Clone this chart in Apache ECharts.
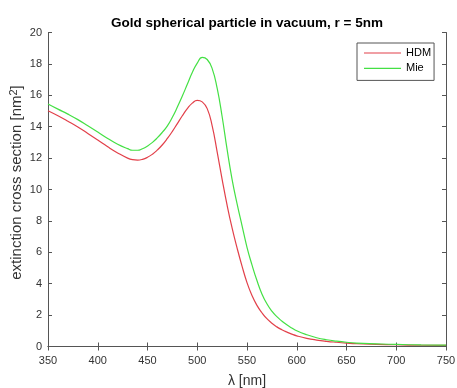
<!DOCTYPE html>
<html>
<head>
<meta charset="utf-8">
<script src="https://cdn.jsdelivr.net/npm/echarts@6/dist/echarts.min.js"></script>
<style>
html,body{margin:0;padding:0;background:#fff;}
#chart{width:457px;height:388px;}
</style>
</head>
<body>
<div id="chart"></div>
<script>
var titleText = 'Gold spherical particle in vacuum, r = 5nm';
var xAxisName = 'λ [nm]';
var yAxisName = 'extinction cross section [nm{sup|2}]';
var seriesNames = ['HDM', 'Mie'];

var wavelengths = [350,360,370,380,390,400,410,420,430,435,440,445,450,455,460,465,470,475,480,485,490,495,500,505,510,515,520,525,530,535,540,545,550,555,560,565,570,575,580,585,590,595,600,610,620,630,640,650,660,680,700,725,750];
var hdmValues = [15.02,14.7,14.35,13.98,13.57,13.15,12.72,12.33,12.0,11.9,11.87,11.92,12.05,12.25,12.52,12.85,13.25,13.7,14.2,14.7,15.15,15.5,15.68,15.58,15.15,14.05,12.4,10.65,9.0,7.55,6.28,5.12,4.07,3.25,2.62,2.15,1.77,1.48,1.25,1.07,0.92,0.79,0.68,0.52,0.41,0.33,0.27,0.22,0.18,0.14,0.11,0.08,0.07];
var mieValues = [15.45,15.12,14.8,14.45,14.06,13.66,13.25,12.88,12.6,12.5,12.5,12.6,12.77,13.0,13.3,13.65,14.05,14.6,15.25,15.95,16.7,17.45,18.05,18.42,18.28,17.7,16.45,14.65,12.55,10.65,9.1,7.7,6.32,5.2,4.2,3.35,2.72,2.25,1.9,1.62,1.38,1.18,1.0,0.75,0.56,0.43,0.34,0.27,0.22,0.17,0.13,0.1,0.09];

var xTicks = {min: 350, max: 750, interval: 50};
var yTicks = {min: 0, max: 20, interval: 2};

function pairs(xs, ys){ return xs.map(function(x,i){ return [x, ys[i]]; }); }

var axisColor = '#555';
var labelColor = '#333';
var fontFam = '"Liberation Sans", Arial, sans-serif';
var redColor = '#e2404a';
var greenColor = '#44e044';

var chart = echarts.init(document.getElementById('chart'), null, {renderer:'canvas'});
chart.setOption({
  animation: false,
  backgroundColor: '#fff',
  title: {
    text: titleText,
    left: 242, top: 11, textAlign: 'center',
    textStyle: {fontFamily: fontFam, fontSize: 13.5, fontWeight: 'bold', color: '#000'}
  },
  grid: {left: 48, right: 11, top: 32.5, bottom: 41.5, containLabel: false, outerBoundsMode: 'none'},
  legend: {
    orient: 'vertical', left: 357, top: 43,
    data: seriesNames,
    icon: 'rect', itemWidth: 37, itemHeight: 1.2, itemGap: 1.4,
    padding: [3, 3, 5, 7],
    borderColor: axisColor, borderWidth: 1, backgroundColor: '#fff',
    textStyle: {fontFamily: fontFam, fontSize: 11, color: '#000', lineHeight: 14}
  },
  xAxis: [{
    type: 'value', position: 'bottom', min: xTicks.min, max: xTicks.max, interval: xTicks.interval,
    name: xAxisName, nameLocation: 'middle', nameGap: 28, nameMoveOverlap: false,
    nameTextStyle: {fontFamily: fontFam, fontSize: 14, color: labelColor},
    axisLine: {show: true, lineStyle: {color: axisColor, width: 1}},
    axisTick: {show: true, inside: true, length: 4, lineStyle: {color: axisColor}},
    axisLabel: {fontFamily: fontFam, fontSize: 11, color: labelColor, margin: 9},
    splitLine: {show: false}
  },{
    type: 'value', position: 'top', min: xTicks.min, max: xTicks.max, interval: xTicks.interval,
    axisLine: {show: true, lineStyle: {color: axisColor, width: 1}},
    axisTick: {show: true, inside: true, length: 4, lineStyle: {color: axisColor}},
    axisLabel: {show: false}, splitLine: {show: false}
  }],
  yAxis: [{
    type: 'value', position: 'left', min: yTicks.min, max: yTicks.max, interval: yTicks.interval,
    name: yAxisName, nameLocation: 'middle', nameGap: 22, nameMoveOverlap: false,
    nameTextStyle: {
      fontFamily: fontFam, fontSize: 15, color: labelColor, lineHeight: 18,
      padding: [0, 0, 0, 14],
      rich: {sup: {fontFamily: fontFam, fontSize: 11, color: labelColor, verticalAlign: 'top', lineHeight: 18, padding: [0, 0, 6, 0]}}
    },
    axisLine: {show: true, lineStyle: {color: axisColor, width: 1}},
    axisTick: {show: true, inside: true, length: 4, lineStyle: {color: axisColor}},
    axisLabel: {fontFamily: fontFam, fontSize: 11, color: labelColor, margin: 6},
    splitLine: {show: false}
  },{
    type: 'value', position: 'right', min: yTicks.min, max: yTicks.max, interval: yTicks.interval,
    axisLine: {show: true, lineStyle: {color: axisColor, width: 1}},
    axisTick: {show: true, inside: true, length: 4, lineStyle: {color: axisColor}},
    axisLabel: {show: false}, splitLine: {show: false}
  }],
  series: [{
    name: seriesNames[0], type: 'line', xAxisIndex: 0, yAxisIndex: 0,
    data: pairs(wavelengths, hdmValues), showSymbol: false, smooth: true,
    itemStyle: {color: redColor}, lineStyle: {color: redColor, width: 1.2}
  },{
    name: seriesNames[1], type: 'line', xAxisIndex: 0, yAxisIndex: 0,
    data: pairs(wavelengths, mieValues), showSymbol: false, smooth: true,
    itemStyle: {color: greenColor}, lineStyle: {color: greenColor, width: 1.2}
  }]
});
</script>
</body>
</html>
